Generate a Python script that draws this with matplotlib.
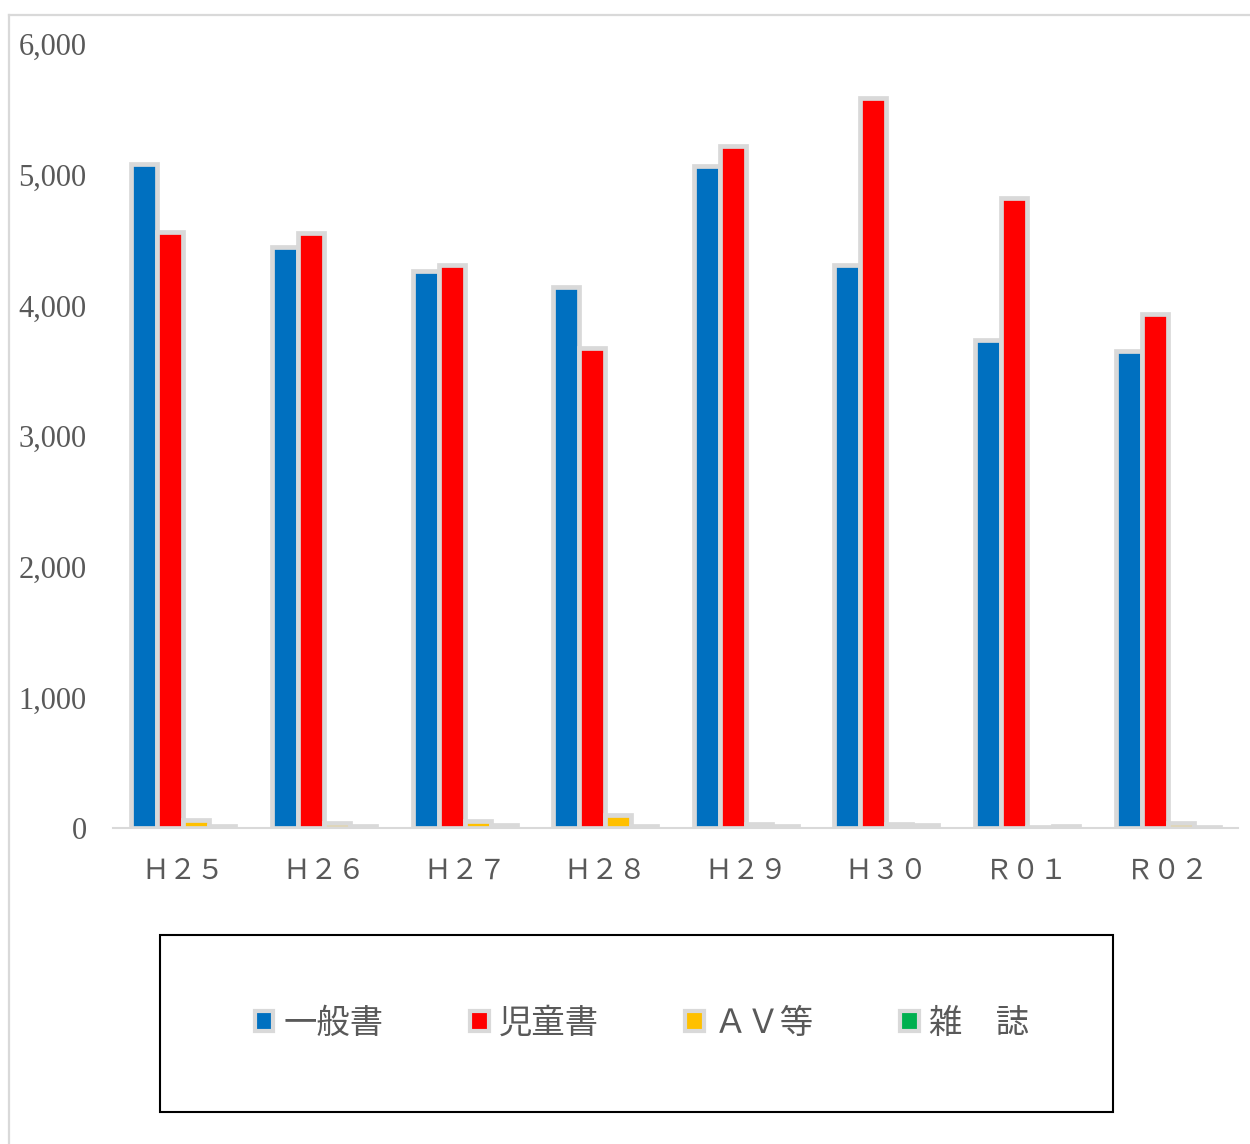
import matplotlib
matplotlib.use("Agg")
import matplotlib.pyplot as plt
from matplotlib.patches import Patch, Rectangle
from matplotlib.lines import Line2D
import numpy as np

plt.rcParams['font.family'] = ['Noto Sans CJK JP', 'DejaVu Sans']

categories = ["Ｈ２５", "Ｈ２６", "Ｈ２７", "Ｈ２８", "Ｈ２９", "Ｈ３０", "Ｒ０１", "Ｒ０２"]
series_names = ["一般書", "児童書", "ＡＶ等", "雑　誌"]
general = [5085, 4443, 4266, 4144, 5070, 4305, 3738, 3647]
children = [4565, 4550, 4305, 3677, 5223, 5583, 4825, 3937]
av = [65, 42, 50, 96, 30, 30, 10, 42]
magazines = [18, 15, 20, 18, 15, 22, 12, 6]
colors = ["#0070C0", "#FF0000", "#FFC000", "#00B050"]
yticks = [0, 1000, 2000, 3000, 4000, 5000, 6000]

W, H = 1250, 1144
fig = plt.figure(figsize=(W / 100, H / 100), dpi=100)

# outer chart border (top and left visible)
fig.add_artist(Line2D([9 / W, 9 / W], [0, 1 - 15 / H], color="#D9D9D9", lw=1.6))
fig.add_artist(Line2D([9 / W, 1], [1 - 15 / H, 1 - 15 / H], color="#D9D9D9", lw=1.6))

ax = fig.add_axes([113 / W, (H - 828) / H, 1125 / W, 784 / H])
x = np.arange(len(categories))
bw = 0.185
data = [general, children, av, magazines]
for i, (vals, c) in enumerate(zip(data, colors)):
    ax.bar(x + (i - 1.5) * bw, vals, width=bw, color=c, edgecolor="#D9D9D9",
           linewidth=3.4, zorder=3)

ax.set_xlim(-0.5, len(categories) - 0.5)
ax.set_ylim(0, 6000)
ax.set_yticks(yticks)
ax.set_yticklabels([f"{v:,}" for v in yticks], family=["Liberation Serif"], fontsize=22, color="#595959")
ax.set_xticks(x)
ax.set_xticklabels(categories, fontsize=20, color="#595959")
ax.tick_params(axis="both", length=0)
ax.tick_params(axis="x", pad=20)
ax.tick_params(axis="y", pad=19)
for s in ["top", "right", "left"]:
    ax.spines[s].set_visible(False)
ax.spines["bottom"].set_color("#D9D9D9")
ax.spines["bottom"].set_linewidth(1.5)

# legend box
fig.add_artist(Rectangle((160 / W, 1 - 1112 / H), (1113 - 160) / W, (1112 - 935) / H,
                         transform=fig.transFigure, fill=False, edgecolor="black", lw=1.5))
handles = [Patch(facecolor=c, edgecolor="#D9D9D9", linewidth=3.0) for c in colors]
leg = fig.legend(handles, series_names, loc="center", ncol=4,
                 bbox_to_anchor=(642 / W, 1 - 1023 / H), frameon=False,
                 fontsize=24, handlelength=0.55, handleheight=0.55,
                 handletextpad=0.3, columnspacing=2.6)
for t in leg.get_texts():
    t.set_color("#595959")

fig.savefig("out.png", dpi=100)
